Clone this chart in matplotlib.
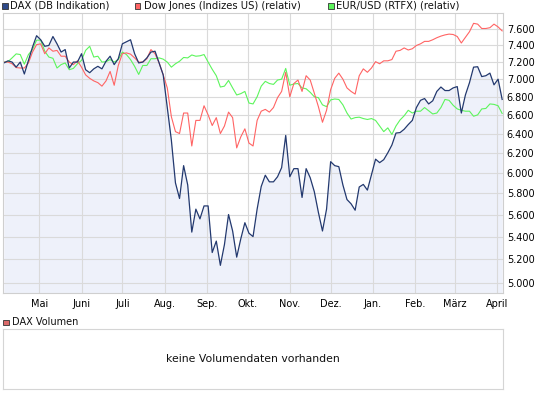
import numpy as np
import pandas as pd
import matplotlib
matplotlib.use("Agg")
import matplotlib.pyplot as plt
import matplotlib.ticker as mticker
from matplotlib.patches import Rectangle

# Kurse alle 3 Kalendertage, Apr. 2011 - Apr. 2012 (DAX-Punkte, Vergleichswerte relativ skaliert)
dates = pd.date_range("2011-04-05", periods=123, freq="3D")

dax = [
    7190, 7215, 7200, 7140, 7200, 7060, 7220, 7380, 7520, 7470,
    7390, 7400, 7510, 7420, 7320, 7350, 7130, 7200, 7200, 7300,
    7110, 7075, 7120, 7150, 7120, 7210, 7270, 7170, 7240, 7420,
    7445, 7470, 7300, 7190, 7200, 7250, 7320, 7330, 7190, 7050,
    6680, 6330, 5900, 5750, 6070, 5880, 5440, 5650, 5560, 5680,
    5680, 5260, 5360, 5150, 5330, 5600, 5450, 5220, 5380, 5525,
    5430, 5400, 5650, 5865, 5975, 5910, 5910, 5960, 6050, 6380,
    5960, 6040, 6040, 5760, 6040, 5950, 5815, 5620, 5450, 5650,
    6110, 6070, 6060, 5880, 5740, 5700, 5640, 5860, 5885, 5830,
    5980, 6135, 6100, 6130, 6200, 6280, 6405, 6410, 6445, 6495,
    6540, 6680, 6760, 6780, 6720, 6755, 6860, 6910, 6870, 6870,
    6900, 6915, 6620, 6820, 6960, 7140, 7145, 7030, 7040, 7070,
    6935, 7000, 6770,
]

dow_rel = [
    7200, 7200, 7180, 7135, 7130, 7130, 7190, 7320, 7410, 7420,
    7300, 7370, 7330, 7340, 7270, 7270, 7200, 7170, 7215, 7140,
    7050, 7010, 6980, 6960, 6920, 6980, 7090, 6930, 7160, 7300,
    7310, 7295, 7250, 7200, 7200, 7240, 7350, 7300, 7190, 7050,
    6900, 6580, 6420, 6400, 6620, 6620, 6270, 6540, 6540, 6700,
    6600, 6485, 6570, 6400, 6480, 6630, 6570, 6250, 6365, 6450,
    6300, 6270, 6540, 6640, 6660, 6630, 6680, 6790, 6860, 7080,
    6800, 6950, 6990, 6860, 7040, 6990, 6840, 6690, 6520, 6650,
    6880, 7010, 7070, 7000, 6900, 6860, 6830, 7040, 7120, 7080,
    7130, 7205, 7180, 7215, 7215, 7230, 7330, 7340, 7370, 7345,
    7360, 7400, 7420, 7450, 7450, 7470, 7495, 7515, 7530, 7540,
    7535, 7510, 7430, 7500, 7570, 7675, 7665, 7610, 7610, 7620,
    7665, 7630, 7580,
]

eurusd_rel = [
    7200, 7205, 7250, 7298, 7290, 7175, 7290, 7350, 7465, 7465,
    7330, 7260, 7245, 7130, 7170, 7190, 7110, 7125, 7180, 7220,
    7340, 7390, 7260, 7270, 7200, 7205, 7230, 7200, 7230, 7320,
    7290, 7230, 7150, 7055, 7160, 7160, 7240, 7240, 7250, 7235,
    7200, 7140, 7180, 7210, 7255, 7250, 7285, 7270, 7275, 7290,
    7200, 7115, 7040, 6910, 6920, 6985, 6900, 6820, 6835, 6860,
    6730, 6720, 6800, 6920, 6975, 6950, 6940, 6990, 7000, 7125,
    6930, 6945, 6950, 6900, 6890, 6850, 6800, 6790, 6710, 6690,
    6765, 6775, 6770, 6710, 6620, 6555, 6570, 6575, 6560, 6550,
    6560, 6540, 6480, 6420, 6460, 6390, 6480, 6545, 6590, 6650,
    6620, 6640, 6640, 6680, 6645, 6610, 6620, 6680, 6770, 6760,
    6705, 6665, 6650, 6640, 6640, 6585, 6600, 6665, 6670, 6720,
    6715, 6700, 6615,
]

month_starts = pd.to_datetime([
    "2011-05-01", "2011-06-01", "2011-07-01", "2011-08-01", "2011-09-01",
    "2011-10-01", "2011-11-01", "2011-12-01", "2012-01-01", "2012-02-01",
    "2012-03-01", "2012-04-01",
])
month_labels = ["Mai", "Juni", "Juli", "Aug.", "Sep.", "Okt.", "Nov.", "Dez.",
                "Jan.", "Feb.", "März", "April"]
y_ticks = [5000, 5200, 5400, 5600, 5800, 6000, 6200, 6400, 6600, 6800,
           7000, 7200, 7400, 7600]

W, H = 545, 398
DAX_COL = "#23396F"
DOW_COL = "#FF6464"
EUR_COL = "#5CF55C"
GRID_COL = "#DADADA"
FS = 7.0


def fx(px):
    return px / W


def fy(py):
    return 1 - py / H


fig = plt.figure(figsize=(W / 100, H / 100), dpi=100)
fig.patch.set_facecolor("white")

# --- Hauptchart ---
ax = fig.add_axes([fx(3.3), fy(293.3), (503.3 - 3.3) / W, (293.3 - 13.3) / H])
ax.set_yscale("log")
ax.set_ylim(4918, 7803)
ax.set_xlim(pd.Timestamp("2011-04-04 13:00"), pd.Timestamp("2012-04-05 20:00"))
ax.set_axisbelow(True)

ax.fill_between(dates, dax, 4918, color="#EEF1FA", lw=0, zorder=0.3)
ax.plot(dates, eurusd_rel, color=EUR_COL, lw=0.8, zorder=2)
ax.plot(dates, dow_rel, color=DOW_COL, lw=0.8, zorder=2.1)
ax.plot(dates, dax, color=DAX_COL, lw=0.9, zorder=2.2)

ax.yaxis.set_major_locator(mticker.FixedLocator(y_ticks))
ax.yaxis.set_minor_locator(mticker.NullLocator())
ax.yaxis.set_major_formatter(mticker.FuncFormatter(lambda v, p: f"{v:,.0f}".replace(",", ".")))
ax.yaxis.tick_right()
ax.set_xticks(month_starts)
ax.set_xticklabels(month_labels)
ax.xaxis.set_minor_locator(mticker.NullLocator())
ax.tick_params(axis="y", length=0, pad=2.5, labelsize=FS)
ax.tick_params(axis="x", length=0, pad=4, labelsize=FS)
ax.grid(True, color=GRID_COL, lw=0.8)
for s in ax.spines.values():
    s.set_color("#CFCFCF")
    s.set_linewidth(0.8)

# --- Legende oben ---
legend_items = [
    (2, "DAX (DB Indikation)", "#2E4A8A"),
    (135, "Dow Jones (Indizes US) (relativ)", DOW_COL),
    (328, "EUR/USD (RTFX) (relativ)", EUR_COL),
]
for x0, label, col in legend_items:
    fig.patches.append(Rectangle((fx(x0), fy(8.5)), 5.5 / W, 5.5 / H, transform=fig.transFigure,
                                 facecolor=col, edgecolor="#333333", lw=0.6))
    fig.text(fx(x0 + 8.5), fy(5.8), label, fontsize=FS + 0.2, va="center", ha="left", color="#111111")

# --- Volumen-Panel ---
fig.patches.append(Rectangle((fx(3), fy(325)), 5.5 / W, 5.5 / H, transform=fig.transFigure,
                             facecolor="#DB6A6A", edgecolor="#333333", lw=0.6))
fig.text(fx(12), fy(322), "DAX Volumen", fontsize=FS, va="center", ha="left", color="#111111")

vax = fig.add_axes([fx(3.3), fy(389), (503.3 - 3.3) / W, (389 - 329.3) / H])
vax.set_xticks([])
vax.set_yticks([])
for s in vax.spines.values():
    s.set_color("#D5D5D5")
    s.set_linewidth(0.8)
vax.text(0.5, 0.5, "keine Volumendaten vorhanden", transform=vax.transAxes,
         ha="center", va="center", fontsize=FS + 0.8, color="#111111")

fig.savefig("out.png", dpi=100)
